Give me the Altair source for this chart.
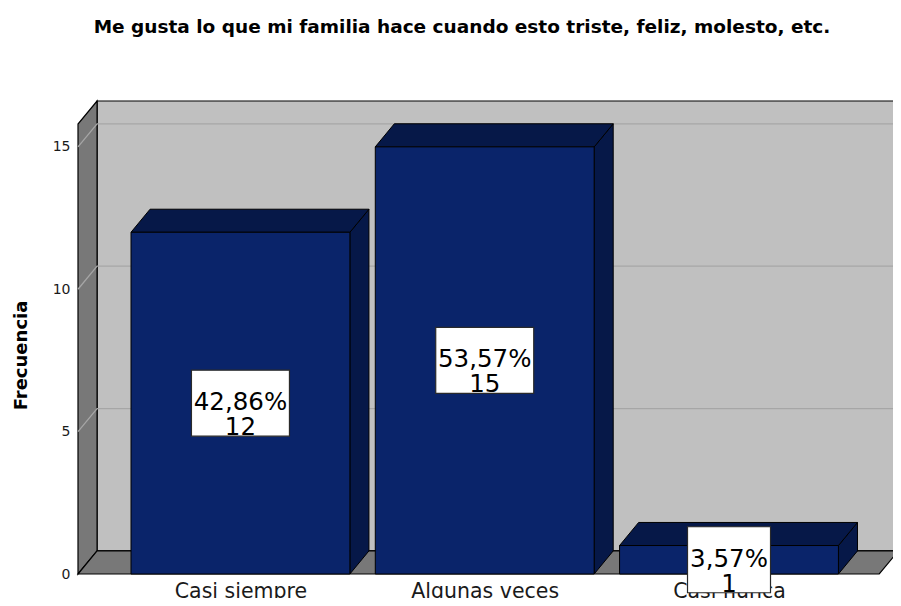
import altair as alt
import pandas as pd

# ---------------- data ----------------
categories = ["Casi siempre", "Algunas veces", "Casi nunca"]
counts = [12, 15, 1]
percents = ["42,86%", "53,57%", "3,57%"]
y_ticks = [0, 5, 10, 15]
chart_title = "Me gusta lo que mi familia hace cuando esto triste, feliz, molesto, etc."
y_title = "Frecuencia"

# ---------------- geometry / style ----------------
UX = 244.28                    # px per category unit
PLOT_W, PLOT_H = 815, 473
X_MIN = -0.665
X_MAX = X_MIN + PLOT_W / UX
Y_MAX = 16.61
DX, DY = 0.078, 0.81          # depth offset of the 3D frame
FRONT_RIGHT = 2.615
HALF = 0.448                   # half bar width (category units)
BOX_W_PX = [98, 98, 83]
BOX_H_PX = 66
UY = PLOT_H / Y_MAX
FONT = "DejaVu Sans"

BAR_FRONT = "#0a246a"
BAR_DARK = "#061848"
WALL_BACK = "#c0c0c0"
WALL_SIDE = "#787878"
GRID = "#a6a6a6"

xs = alt.Scale(domain=[X_MIN, X_MAX], nice=False, zero=False)
ys = alt.Scale(domain=[0, Y_MAX], nice=False, zero=False)

label_expr = "[" + ",".join("'" + c + "'" for c in categories) + "][datum.value]"
x_axis = alt.Axis(values=list(range(len(categories))), labelExpr=label_expr, title=None,
                  ticks=False, tickSize=0, domain=False, grid=False, labelFont=FONT,
                  labelFontSize=20.5, labelColor="#1a1a1a", labelPadding=23,
                  labelBaseline="alphabetic", labelOverlap=False, labelFlush=False)
y_axis = alt.Axis(values=y_ticks, title=y_title, ticks=False, tickSize=0, domain=False,
                  grid=False, labelFont=FONT, labelFontSize=14, labelColor="#1a1a1a",
                  labelPadding=8, titleFont=FONT, titleFontSize=18, titleFontWeight="bold",
                  titleColor="black", titleAngle=270, titleAlign="center",
                  titleBaseline="middle", titleX=-57, titleY=254)


def X(f):
    return alt.X(f, type="quantitative", scale=xs, axis=x_axis)


def Y(f):
    return alt.Y(f, type="quantitative", scale=ys, axis=y_axis)


# ---------------- frame ----------------
back = pd.DataFrame([{"x": X_MIN + DX, "x2": X_MAX + 0.3, "y": DY, "y2": Y_MAX}])
back_layer = alt.Chart(back).mark_rect(fill=WALL_BACK, stroke="black", strokeWidth=1.2).encode(
    x=X("x"), x2="x2", y=Y("y"), y2="y2")

left = pd.DataFrame([
    {"x": X_MIN, "y": 0, "y2": Y_MAX - DY},
    {"x": X_MIN + DX, "y": DY, "y2": Y_MAX},
])
left_layer = alt.Chart(left).mark_area(fill=WALL_SIDE, stroke="black", strokeWidth=1.2,
                                       orient="vertical").encode(
    x=X("x"), y=Y("y"), y2="y2")

grid_rows = []
for v in y_ticks[1:]:
    grid_rows += [
        {"g": v, "o": 0, "x": X_MIN, "y": v},
        {"g": v, "o": 1, "x": X_MIN + DX, "y": v + DY},
        {"g": v, "o": 2, "x": X_MAX + 0.3, "y": v + DY},
    ]
grid_layer = alt.Chart(pd.DataFrame(grid_rows)).mark_line(color=GRID, strokeWidth=1.3).encode(
    x=X("x"), y=Y("y"), detail="g:N", order="o:Q")

floor = pd.DataFrame([
    {"y": 0, "x": X_MIN, "x2": FRONT_RIGHT},
    {"y": DY, "x": X_MIN + DX, "x2": FRONT_RIGHT + DX},
])
floor_layer = alt.Chart(floor).mark_area(fill=WALL_SIDE, stroke="black", strokeWidth=1.2,
                                         orient="horizontal").encode(
    y=Y("y"), x=alt.X("x", type="quantitative", scale=xs, axis=x_axis, stack=None), x2="x2")

# ---------------- bars ----------------
front_rows, top_rows, side_rows, box_rows = [], [], [], []
for i, (c, v, p) in enumerate(zip(categories, counts, percents)):
    front_rows.append({"cat": c, "x": i - HALF, "x2": i + HALF, "y": 0, "y2": v})
    top_rows += [
        {"cat": c, "y": v, "x": i - HALF, "x2": i + HALF},
        {"cat": c, "y": v + DY, "x": i - HALF + DX, "x2": i + HALF + DX},
    ]
    side_rows += [
        {"cat": c, "x": i + HALF, "y": 0, "y2": v},
        {"cat": c, "x": i + HALF + DX, "y": DY, "y2": v + DY},
    ]
    bw = BOX_W_PX[i] / 2 / UX
    bh = BOX_H_PX / 2 / UY
    box_rows.append({"cat": c, "xc": i, "yc": v / 2, "x": i - bw, "x2": i + bw,
                     "y": v / 2 - bh, "y2": v / 2 + bh, "label": p + "\n" + str(v)})

side_layer = alt.Chart(pd.DataFrame(side_rows)).mark_area(
    fill=BAR_DARK, stroke="black", strokeWidth=1, orient="vertical").encode(
    x=X("x"), y=Y("y"), y2="y2", detail="cat:N")
top_layer = alt.Chart(pd.DataFrame(top_rows)).mark_area(
    fill=BAR_DARK, stroke="black", strokeWidth=1, orient="horizontal").encode(
    y=Y("y"), x=alt.X("x", type="quantitative", scale=xs, axis=x_axis, stack=None), x2="x2",
    detail="cat:N")
front_layer = alt.Chart(pd.DataFrame(front_rows)).mark_rect(
    fill=BAR_FRONT, stroke="black", strokeWidth=1).encode(
    x=X("x"), x2="x2", y=Y("y"), y2="y2")

boxes = pd.DataFrame(box_rows)
box_layer = alt.Chart(boxes).mark_rect(fill="white", stroke="#2a2a2a", strokeWidth=1.2).encode(
    x=X("x"), x2="x2", y=Y("y"), y2="y2")
text_layer = alt.Chart(boxes).mark_text(
    font=FONT, fontSize=24.5, lineHeight=25, lineBreak="\n", color="black",
    align="center", baseline="middle").encode(
    x=X("xc"), y=Y("yc"), text="label:N")

chart = alt.layer(
    back_layer, left_layer, grid_layer, floor_layer,
    side_layer, top_layer, front_layer, box_layer, text_layer
).properties(
    width=PLOT_W, height=PLOT_H,
    autosize=alt.AutoSizeParams(type="none"),
    padding={"left": 70, "top": 93, "right": 0, "bottom": 24},
    background="white",
    title=alt.TitleParams(chart_title, font=FONT, fontSize=18.5, fontWeight="bold",
                          color="black", anchor="middle", dx=-23.5, offset=47,
                          baseline="alphabetic"),
).configure_view(strokeWidth=0)

chart.save("out.html", embed_options={"renderer": "svg", "actions": False})
